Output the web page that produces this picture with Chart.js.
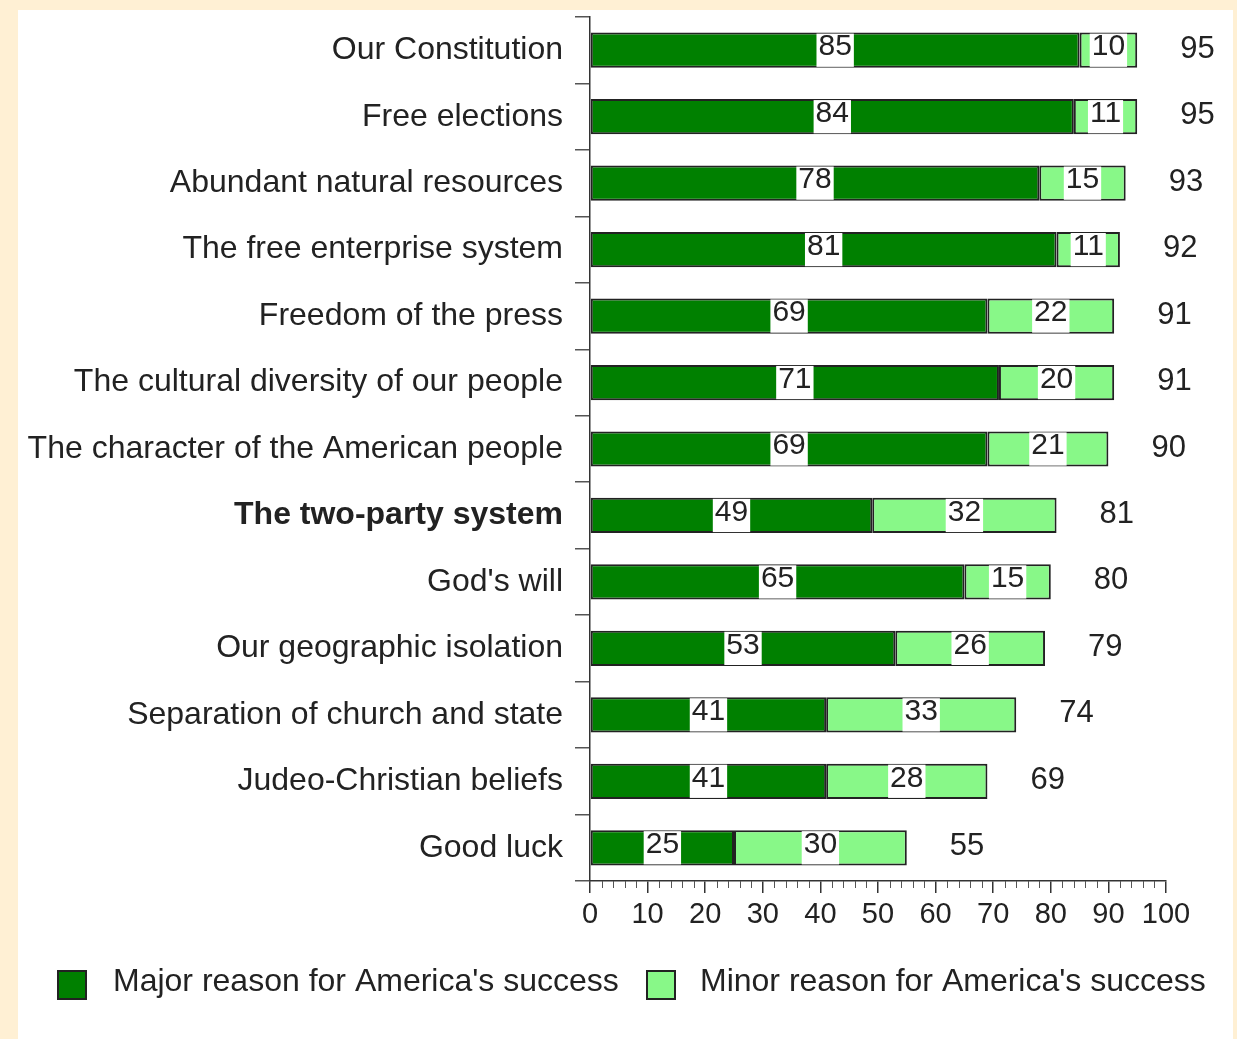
<!DOCTYPE html>
<html>
<head>
<meta charset="utf-8">
<script src="https://cdn.jsdelivr.net/npm/chart.js@4.4.1/dist/chart.umd.min.js"></script>
<style>
  html, body { margin: 0; padding: 0; background: #fff0d4; width: 1237px; height: 1039px; overflow: hidden; }
  #wrap { position: absolute; left: 18px; top: 10px; width: 1215px; height: 1029px; background: #ffffff; }
  canvas { display: block; }
</style>
</head>
<body>
<div id="wrap"><canvas id="c" width="1215" height="1029"></canvas></div>
<script>
const categories = [
  "Our Constitution",
  "Free elections",
  "Abundant natural resources",
  "The free enterprise system",
  "Freedom of the press",
  "The cultural diversity of our people",
  "The character of the American people",
  "The two-party system",
  "God's will",
  "Our geographic isolation",
  "Separation of church and state",
  "Judeo-Christian beliefs",
  "Good luck"
];
const majorReason = [85, 84, 78, 81, 69, 71, 69, 49, 65, 53, 41, 41, 25];
const minorReason = [10, 11, 15, 11, 22, 20, 21, 32, 15, 26, 33, 28, 30];
const totals = [95, 95, 93, 92, 91, 91, 90, 81, 80, 79, 74, 69, 55];
const seriesNames = ["Major reason for America's success", "Minor reason for America's success"];
const boldCategory = "The two-party system";
const xMin = 0, xMax = 100, xStep = 10, xMinorStep = 2;

const FONT = "'Liberation Sans', Arial, Helvetica, sans-serif";
const NARROW = "'Liberation Sans Narrow', 'Liberation Sans', Arial, sans-serif";
const TEXT = '#222222';
const colors = ['#008000', '#88f888'];

const overlay = {
  id: 'overlay',
  afterDatasetsDraw(chart) {
    const ctx = chart.ctx;
    ctx.save();
    // value boxes
    ctx.font = '30px ' + FONT;
    ctx.textAlign = 'center';
    ctx.textBaseline = 'middle';
    chart.data.datasets.forEach((ds, di) => {
      const meta = chart.getDatasetMeta(di);
      meta.data.forEach((bar, i) => {
        const v = ds.data[i];
        const txt = String(v);
        const cx = (bar.x + bar.base) / 2;
        const w = ctx.measureText(txt).width + 4;
        const h = bar.height - 2;
        ctx.fillStyle = '#ffffff';
        ctx.fillRect(cx - w / 2, bar.y - h / 2, w, h);
        ctx.fillStyle = TEXT;
        ctx.fillText(txt, cx, bar.y - 3);
      });
    });
    // totals
    ctx.font = '31px ' + FONT;
    ctx.textAlign = 'left';
    const xs = chart.scales.x, ys = chart.scales.y;
    totals.forEach((t, i) => {
      ctx.fillStyle = TEXT;
      ctx.fillText(String(t), xs.getPixelForValue(t) + 43, ys.getPixelForValue(i) - 1);
    });
    ctx.restore();
  },
  afterDraw(chart) {
    const ctx = chart.ctx;
    const xs = chart.scales.x;
    const bottom = chart.chartArea.bottom;
    ctx.save();
    // minor ticks
    ctx.strokeStyle = '#555';
    ctx.lineWidth = 1;
    for (let v = xMin; v <= xMax; v += xMinorStep) {
      if (v % xStep === 0) continue;
      const x = Math.round(xs.getPixelForValue(v)) + 0.5;
      ctx.beginPath();
      ctx.moveTo(x, bottom);
      ctx.lineTo(x, bottom + 7);
      ctx.stroke();
    }
    // legend
    const items = [{x: 40, tx: 95}, {x: 629, tx: 682}];
    const ly = 975;
    ctx.font = '32px ' + FONT;
    ctx.textBaseline = 'middle';
    ctx.textAlign = 'left';
    items.forEach((it, i) => {
      ctx.fillStyle = colors[i];
      ctx.fillRect(it.x, ly - 14, 28, 28);
      ctx.strokeStyle = '#222';
      ctx.lineWidth = 2;
      ctx.strokeRect(it.x, ly - 14, 28, 28);
      ctx.fillStyle = TEXT;
      ctx.fillText(seriesNames[i], it.tx, ly - 3);
    });
    ctx.restore();
  }
};

new Chart(document.getElementById('c'), {
  type: 'bar',
  data: {
    labels: categories,
    datasets: [
      { label: seriesNames[0], data: majorReason, backgroundColor: colors[0] },
      { label: seriesNames[1], data: minorReason, backgroundColor: colors[1] }
    ].map(d => Object.assign(d, {
      borderColor: '#222', borderWidth: 2, borderSkipped: false,
      barPercentage: 0.53, categoryPercentage: 1
    }))
  },
  options: {
    indexAxis: 'y',
    responsive: false,
    animation: false,
    devicePixelRatio: 1,
    layout: { padding: { top: 7, right: 67, bottom: 0, left: 0 } },
    plugins: { legend: { display: false }, tooltip: { enabled: false } },
    scales: {
      x: {
        stacked: true, min: xMin, max: xMax,
        ticks: { stepSize: xStep, color: TEXT, padding: 5, font: { family: NARROW, size: 29 } },
        grid: { drawOnChartArea: false, tickLength: 12, color: '#333', lineWidth: 1.5 },
        border: { color: '#333', width: 1.5 },
        afterFit(s) { s.height = 158; s.paddingLeft = 0; s.paddingRight = 0; }
      },
      y: {
        stacked: true,
        ticks: {
          color: TEXT, padding: 12,
          font: (c) => ({ family: FONT, size: 32, weight: (categories[c.index] === boldCategory) ? 'bold' : 'normal' })
        },
        grid: { drawOnChartArea: false, tickLength: 15, color: '#555', lineWidth: 1.5, offset: true },
        border: { color: '#333', width: 1.5 },
        afterFit(s) { s.width = 572; s.paddingTop = 0; s.paddingBottom = 0; }
      }
    }
  },
  plugins: [overlay]
});
</script>
</body>
</html>
